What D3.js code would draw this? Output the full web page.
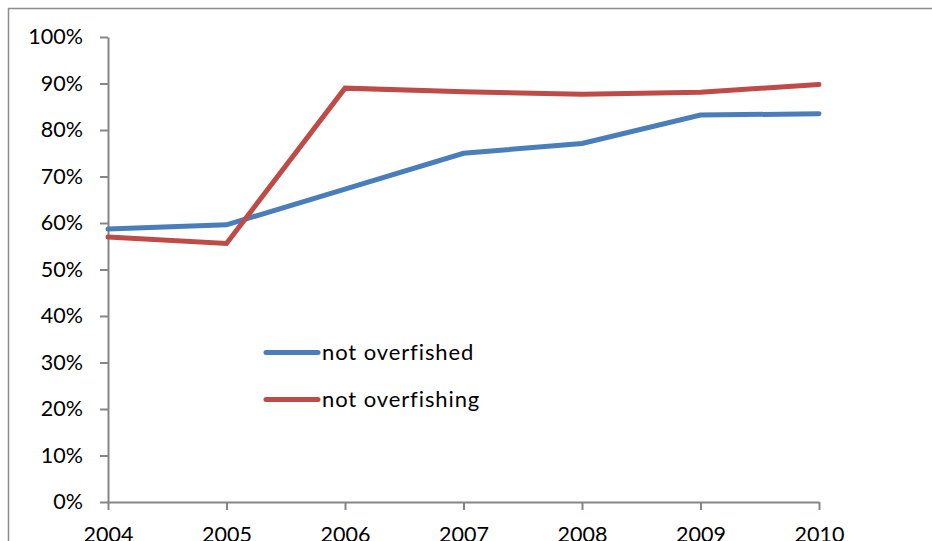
<!DOCTYPE html>
<html>
<head>
<meta charset="utf-8">
<script src="https://cdn.jsdelivr.net/npm/d3@7"></script>
<style>
  body { margin: 0; background: #fff; }
  svg { display: block; font-family: Lato, "Open Sans", sans-serif; }
</style>
</head>
<body>
<svg width="932" height="541"></svg>
<script>
// share of stocks, 2004-2010
var years = ["2004", "2005", "2006", "2007", "2008", "2009", "2010"];
var notOverfished = [0.587, 0.596, 0.673, 0.750, 0.771, 0.832, 0.835];
var notOverfishing = [0.570, 0.556, 0.890, 0.882, 0.877, 0.881, 0.898];
var yTicks = [0, 0.1, 0.2, 0.3, 0.4, 0.5, 0.6, 0.7, 0.8, 0.9, 1];

var series = [
  {name: "not overfished", values: notOverfished, color: "#4a7ebb"},
  {name: "not overfishing", values: notOverfishing, color: "#be4b48"}
];

var svg = d3.select("svg"),
    width = +svg.attr("width"),
    height = +svg.attr("height");

var plotLeft = 108, plotRight = 819, plotTop = 37, plotBottom = 502;

var x = d3.scalePoint().domain(years).range([plotLeft, plotRight]);
var y = d3.scaleLinear().domain([0, 1]).range([plotBottom, plotTop]);

// chart frame
svg.append("rect")
    .attr("x", 8.5).attr("y", 8.5)
    .attr("width", width + 20).attr("height", height + 20)
    .attr("fill", "none")
    .attr("stroke", "#8c8c8c")
    .attr("stroke-width", 1.5);

var yAxis = svg.append("g")
    .attr("transform", "translate(" + plotLeft + ",0)")
    .call(d3.axisLeft(y).tickValues(yTicks).tickFormat(d3.format(".0%"))
        .tickSize(8).tickSizeOuter(0).tickPadding(17));

var xAxis = svg.append("g")
    .attr("transform", "translate(0," + plotBottom + ")")
    .call(d3.axisBottom(x).tickSize(8).tickSizeOuter(0).tickPadding(17));

svg.selectAll(".domain, .tick line")
    .attr("stroke", "#868686")
    .attr("stroke-width", 2);

svg.selectAll(".tick text")
    .attr("fill", "#000")
    .style("font-size", "21.5px")
    .style("font-family", "Lato, 'Open Sans', sans-serif");

var line = d3.line()
    .x(function(d, i) { return x(years[i]); })
    .y(function(d) { return y(d); });

svg.append("g").selectAll("path")
    .data(series)
    .enter().append("path")
      .attr("d", function(d) { return line(d.values); })
      .attr("fill", "none")
      .attr("stroke", function(d) { return d.color; })
      .attr("stroke-width", 5)
      .attr("stroke-linecap", "round")
      .attr("stroke-linejoin", "miter");

// legend
var legend = svg.append("g").selectAll("g")
    .data(series)
    .enter().append("g")
      .attr("transform", function(d, i) { return "translate(266," + (352.5 + i * 47) + ")"; });

legend.append("line")
    .attr("x1", 0).attr("x2", 52)
    .attr("stroke", function(d) { return d.color; })
    .attr("stroke-width", 5)
    .attr("stroke-linecap", "round");

legend.append("text")
    .attr("x", 56)
    .attr("y", 7)
    .style("font-size", "22px")
    .style("letter-spacing", "0.9px")
    .text(function(d) { return d.name; });
</script>
</body>
</html>
